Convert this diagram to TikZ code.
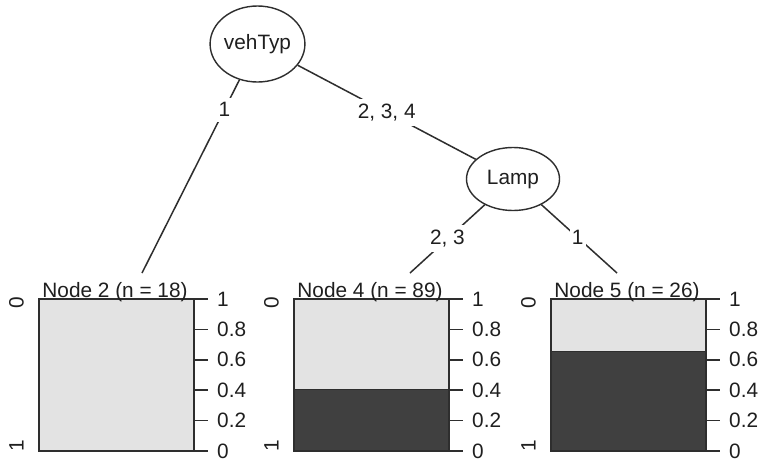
\documentclass[tikz,border=0pt]{standalone}
\usepackage{fontspec}
\setmainfont{Liberation Sans}
\usepackage{tikz}
\usetikzlibrary{shapes.geometric, positioning, calc}
\definecolor{barLight}{RGB}{227,227,227}
\definecolor{barDark}{RGB}{64,64,64}
\colorlet{lineGray}{black!82}

\begin{document}
\begin{tikzpicture}[x=1pt, y=-1pt,
    every node/.style={font=\fontsize{20.8}{24}\selectfont, text=black!88},
    splitnode/.style={ellipse, draw=lineGray, line width=1.4pt, inner sep=0pt},
    edgeline/.style={draw=lineGray, line width=1.5pt},
    edgelabel/.style={fill=white, inner xsep=2pt, inner ysep=5pt},
    panelbox/.style={draw=lineGray, line width=1.5pt},
    ticklabel/.style={anchor=west, inner sep=0pt},
    classlabel/.style={rotate=90, inner sep=0pt}]
    \useasboundingbox[fill=white] (0,0) rectangle (762,464);
    \node[splitnode, minimum width=89pt, minimum height=76pt] (vehTyp) at (257.5,44) {vehTyp};
    \node[splitnode, minimum width=93pt, minimum height=63pt] (lamp) at (513,179) {Lamp};
    \coordinate (n2top) at (142,273);
    \coordinate (n4top) at (410,273);
    \coordinate (n5top) at (617,273);
    \draw[edgeline] (vehTyp) -- node[edgelabel, pos=0.155] (e1) {1} (n2top);
    \draw[edgeline] (vehTyp) -- node[edgelabel, pos=0.5] (e2) {2, 3, 4} (lamp);
    \draw[edgeline] (lamp) -- node[edgelabel, pos=0.5] (e3) {2, 3} (n4top);
    \draw[edgeline] (lamp) -- node[edgelabel, pos=0.48] (e4) {1} (n5top);
    \foreach \xl/\share/\name/\n in {39/0/2/18, 294/0.404/4/89, 551/0.654/5/26} {
      \fill[barLight] (\xl,299) rectangle ++(155,152);
      \fill[barDark] (\xl,451) rectangle ++(155,-152*\share);
      \draw[panelbox] (\xl,299) rectangle ++(155,152);
      \draw[panelbox] (\xl,451-152*\share) -- ++(155,0);
      \node[anchor=base] (lab\name) at (\xl+76,297) {Node \name\ (n = \n)};
      \node[classlabel] (cz\name) at (\xl-22.5,302.5) {0};
      \node[classlabel] (co\name) at (\xl-22.5,446) {1};
      \foreach \t/\lab [count=\i] in {0/0, 0.2/0.2, 0.4/0.4, 0.6/0.6, 0.8/0.8, 1/1} {
        \draw[panelbox] (\xl+155,451-152*\t) -- ++(14,0);
        \node[ticklabel] (t\name\i) at (\xl+178,451-152*\t) {\lab};
      }
    }
\end{tikzpicture}
\end{document}
